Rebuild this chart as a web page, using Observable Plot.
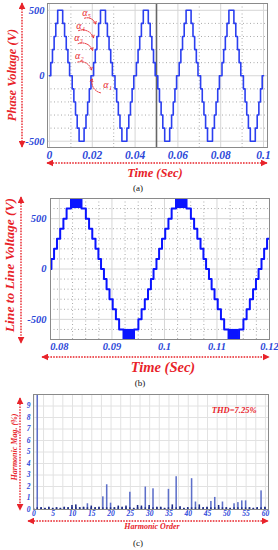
<!DOCTYPE html>
<html><head><meta charset="utf-8">
<script src="https://cdn.jsdelivr.net/npm/d3@7"></script>
<script src="https://cdn.jsdelivr.net/npm/@observablehq/plot@0.6"></script>
<style>
body{margin:0;background:#fff;}
#wrap{position:relative;width:278px;height:550px;overflow:hidden;font-family:"Liberation Serif","Times New Roman",serif;background:#fff;}
.p{position:absolute;left:0;}
.lbl{position:absolute;color:#e8232a;font-weight:bold;font-style:italic;white-space:nowrap;transform:translate(-50%,-50%);line-height:1;}
.rot{transform:translate(-50%,-50%) rotate(-90deg);}
.cap{position:absolute;color:#111;font-size:9px;white-space:nowrap;transform:translate(-50%,-50%);line-height:1;}
#ov{position:absolute;left:0;top:0;pointer-events:none;}
</style></head><body><div id="wrap"></div>
<script>
// ---------- data ----------
const period = 0.02;                       // fundamental period (s)
// (a) phase voltage
const phaseTimeTicks = [0, 0.02, 0.04, 0.06, 0.08, 0.1];
const phaseVoltTicks = [-500, 0, 500];
const phaseSwitchAnglesDeg = [11, 25, 39, 53, 69];   // alpha1..alpha5
const phaseStepV = 100;
const phaseStart = 0;                      // rising zero crossing
const phaseHalfCycles = 10;
const phaseMinorT = [0.01, 0.03, 0.05, 0.07, 0.09];
const phaseMinorV = [-400, -300, -200, -100, 100, 200, 300, 400];
const phaseCursor = [0.05];
const alphaNames = ["α₁", "α₂", "α₃", "α₄", "α₅"];
const alphaLabelT = [0.0272, 0.0139, 0.0136, 0.0145, 0.0173];
const alphaLabelV = [-70, 150, 290, 385, 482];
const alphaArrowT1 = [0.0238, 0.0132, 0.0134, 0.0136, 0.0164];
const alphaArrowV1 = [-130, 105, 245, 345, 440];
const alphaArrowT2 = [0.0199, 0.0196, 0.0201, 0.0206, 0.0215];
const alphaArrowV2 = [-25, 45, 195, 290, 395];
// (b) line-to-line voltage
const lineTimeTicks = [0.08, 0.09, 0.1, 0.11, 0.12];
const lineVoltTicks = [-500, 0, 500];
const lineSwitchAnglesDeg = [5, 14, 24, 35, 46, 57, 72];  // last = PWM block start
const lineStepV = 100;
const lineStart = 0.0582;                  // rising zero crossing
const lineHalfCycles = 7;
const lineBlockLow = 600, lineBlockHigh = 700;
const lineMinorT = [0.0825, 0.085, 0.0875, 0.0925, 0.095, 0.0975, 0.1025, 0.105, 0.1075, 0.1125, 0.115, 0.1175];
const lineMinorV = [-600, -400, -300, -200, -100, 100, 200, 300, 400, 600];
// (c) harmonic spectrum (% of fundamental), index = harmonic order 0..60
const harmonicMag = [
  0.1, 100, 0.15, 0.1, 0.2, 0.1, 0.15, 0.1, 0.2, 0.15,
  0.35, 0.4, 0.15, 0.2, 0.5, 0.3, 0.15, 0.2, 1.1, 2.15,
  0.55, 0.15, 0.3, 0.2, 0.3, 1.5, 0.1, 0.35, 0.3, 1.95,
  0.35, 1.8, 0.2, 0.2, 0.1, 1.75, 0.4, 2.85, 0.25, 0.1,
  0.15, 2.68, 0.65, 0.4, 0.15, 0.2, 0.7, 1.05, 0.35, 0.65,
  0.15, 0.1, 0.5, 0.6, 0.75, 0.75, 0.15, 0.1, 0.15, 1.62,
  0.2
];
const harmTicksX = [0, 5, 10, 15, 20, 25, 30, 35, 40, 45, 50, 55, 60];
const harmTicksY = [0, 1, 2, 3, 4, 5, 6, 7, 8, 9];
const thdText = ["THD=7.25%"];

// ---------- helpers ----------
const RED = "#e8232a", BLUE_T = "#2c47d8";
function staircase(t0, nHalf, angles, step) {
  const pts = [];
  const n = angles.length;
  for (let k = 0; k < nHalf; k++) {
    const T = t0 + k * period / 2, s = k % 2 ? -1 : 1;
    pts.push({t: T, v: 0});
    angles.forEach((a, i) => pts.push({t: T + a / 360 * period, v: s * (i + 1) * step}));
    for (let i = n - 1; i >= 0; i--) pts.push({t: T + (180 - angles[i]) / 360 * period, v: s * i * step});
  }
  pts.push({t: t0 + nHalf * period / 2, v: 0});
  return pts;
}
const fmtT = d => String(+d.toFixed(3));
const fmtV = d => String(d);
const axStyle = {fill: BLUE_T, fontWeight: "bold", fontStyle: "italic", fontFamily: "Liberation Serif"};
const svgStyle = {background: "transparent", overflow: "visible", fontFamily: "Liberation Serif"};

const phasePts = staircase(phaseStart, phaseHalfCycles, phaseSwitchAnglesDeg, phaseStepV);
const linePts = staircase(lineStart, lineHalfCycles, lineSwitchAnglesDeg, lineStepV);
const lastA = lineSwitchAnglesDeg[lineSwitchAnglesDeg.length - 1];
const lineBlocks = d3.range(lineHalfCycles).map(k => {
  const T = lineStart + k * period / 2, s = k % 2 ? -1 : 1;
  return {t1: T + lastA / 360 * period, t2: T + (180 - lastA) / 360 * period,
          v1: s * lineBlockLow, v2: s * lineBlockHigh};
});
const alphaLbl = alphaNames.map((n, i) => ({n, t: alphaLabelT[i], v: alphaLabelV[i]}));
const alphaArr = alphaNames.map((n, i) => ({t1: alphaArrowT1[i], v1: alphaArrowV1[i], t2: alphaArrowT2[i], v2: alphaArrowV2[i]}));
const harm = harmonicMag.map((v, h) => ({h, v}));

const wrap = document.getElementById("wrap");
function place(svg, top) { svg.classList.add("p"); svg.style.top = top + "px"; wrap.appendChild(svg); }

// ---------- (a) ----------
const A = Plot.plot({
  width: 278, height: 162, marginLeft: 47, marginRight: 11, marginTop: 3, marginBottom: 15,
  style: svgStyle,
  x: {domain: [-0.00093, 0.10187]},
  y: {domain: [-548, 552]},
  marks: [
    Plot.gridX(phaseMinorT, {stroke: "#aaa", strokeOpacity: 1, strokeDasharray: "1,2.5"}),
    Plot.gridY(phaseMinorV, {stroke: "#aaa", strokeOpacity: 1, strokeDasharray: "1,2.5"}),
    Plot.gridX(phaseTimeTicks, {stroke: "#d6d6d6", strokeOpacity: 1}),
    Plot.gridY(phaseVoltTicks, {stroke: "#d6d6d6", strokeOpacity: 1}),
    Plot.ruleX(phaseCursor, {stroke: "#666", strokeWidth: 1.6}),
    Plot.line(phasePts, {x: "t", y: "v", curve: "step-after", stroke: "#2b3ff0", strokeWidth: 1.6}),
    Plot.arrow(alphaArr, {x1: "t1", y1: "v1", x2: "t2", y2: "v2", bend: 45, stroke: RED, strokeWidth: 1, strokeDasharray: "1.2,1.2", headLength: 4}),
    Plot.text(alphaLbl, {x: "t", y: "v", text: "n", fill: RED, fontSize: 10, fontStyle: "italic", fontFamily: "Liberation Serif"}),
    Plot.frame({stroke: "#8a8a8a"}),
    Plot.axisX(phaseTimeTicks, {tickSize: 0, tickPadding: 3, fontSize: 11.5, tickFormat: fmtT, label: null, ...axStyle}),
    Plot.axisY(phaseVoltTicks, {tickSize: 0, tickPadding: 3, fontSize: 10.5, tickFormat: fmtV, label: null, ...axStyle})
  ]
});
place(A, 0);

// ---------- (b) ----------
const B = Plot.plot({
  width: 278, height: 159, marginLeft: 50, marginRight: 9, marginTop: 4, marginBottom: 14,
  style: svgStyle,
  x: {domain: [0.0783, 0.12]},
  y: {domain: [-700, 700]},
  marks: [
    Plot.gridX(lineMinorT, {stroke: "#aaa", strokeOpacity: 1, strokeDasharray: "1,2.5"}),
    Plot.gridY(lineMinorV, {stroke: "#aaa", strokeOpacity: 1, strokeDasharray: "1,2.5"}),
    Plot.gridX(lineTimeTicks, {stroke: "#d6d6d6", strokeOpacity: 1}),
    Plot.gridY(lineVoltTicks, {stroke: "#d6d6d6", strokeOpacity: 1}),
    Plot.rect(lineBlocks, {x1: "t1", x2: "t2", y1: "v1", y2: "v2", fill: "#0a14ff", clip: true}),
    Plot.line(linePts, {x: "t", y: "v", curve: "step-after", stroke: "#0a14ff", strokeWidth: 2, clip: true}),
    Plot.frame({stroke: "#8a8a8a"}),
    Plot.axisX(lineTimeTicks, {tickSize: 0, tickPadding: 3, fontSize: 10.5, tickFormat: fmtT, label: null, ...axStyle}),
    Plot.axisY(lineVoltTicks, {tickSize: 0, tickPadding: 4, fontSize: 10.5, tickFormat: fmtV, label: null, ...axStyle})
  ]
});
place(B, 194);

// ---------- (c) ----------
const C = Plot.plot({
  width: 278, height: 127, marginLeft: 33, marginRight: 10, marginTop: 4, marginBottom: 8,
  style: svgStyle,
  x: {domain: [-0.1, 60.8]},
  y: {domain: [0, 10]},
  marks: [
    Plot.gridX(d3.range(0, 61, 2.5), {stroke: "#e2e2e2", strokeOpacity: 1}),
    Plot.gridY(harmTicksY, {stroke: "#e2e2e2", strokeOpacity: 1}),
    Plot.rectY(harm, {x1: d => d.h - 0.2, x2: d => d.h + 0.2, y: "v", fill: d => d.v > 0.45 ? "#5d6fc9" : "#1c2b86", clip: true}),
    Plot.rectY(harm, {x1: d => d.h - 0.2, x2: d => d.h + 0.2, y: d => Math.min(d.v, 0.15), fill: "#1c2b86", clip: true}),
    Plot.text(thdText, {frameAnchor: "top-right", dx: -12, dy: 12, fill: RED, fontSize: 8.5, fontWeight: "bold", fontStyle: "italic", fontFamily: "Liberation Serif"}),
    Plot.frame({stroke: "#8a8a8a"}),
    Plot.axisX(harmTicksX, {tickSize: 0, tickPadding: 1, fontSize: 7.5, label: null, ...axStyle}),
    Plot.axisY(harmTicksY, {tickSize: 0, tickPadding: 3, fontSize: 7.5, label: null, ...axStyle})
  ]
});
place(C, 390);

// ---------- labels, captions, dotted axis arrows ----------
function label(text, cx, cy, size, rot, cls) {
  const d = document.createElement("div");
  d.className = (cls || "lbl") + (rot ? " rot" : "");
  d.textContent = text;
  d.style.left = cx + "px"; d.style.top = cy + "px"; d.style.fontSize = size + "px";
  wrap.appendChild(d);
}
label("Phase Voltage (V)", 12, 75, 12.5, true);
label("Time (Sec)", 155, 172.5, 12.5, false);
label("(a)", 138, 188, 9, false, "cap");
label("Line to Line Voltage (V)", 10, 265, 13.5, true);
label("Time (Sec)", 163, 367, 14.5, false);
label("(b)", 140, 383, 9, false, "cap");
label("Harmonic Mag. (%)", 15, 447, 8, true);
label("Harmonic Order", 152, 527, 8, false);
label("(c)", 138, 543, 9, false, "cap");

const NS = "http://www.w3.org/2000/svg";
const ov = document.createElementNS(NS, "svg");
ov.setAttribute("id", "ov"); ov.setAttribute("width", 278); ov.setAttribute("height", 550);
ov.innerHTML = `<defs><marker id="ah" viewBox="0 0 10 10" refX="9" refY="5" markerWidth="5" markerHeight="5" orient="auto-start-reverse"><path d="M0,0L10,5L0,10z" fill="${RED}"/></marker></defs>`;
function dline(x1, y1, x2, y2) {
  const l = document.createElementNS(NS, "line");
  l.setAttribute("x1", x1); l.setAttribute("y1", y1); l.setAttribute("x2", x2); l.setAttribute("y2", y2);
  l.setAttribute("stroke", RED); l.setAttribute("stroke-width", 1.4); l.setAttribute("stroke-dasharray", "1.6,1.2");
  l.setAttribute("marker-start", "url(#ah)"); l.setAttribute("marker-end", "url(#ah)");
  ov.appendChild(l);
}
dline(22, 3, 22, 147);
dline(47, 163, 267, 163);
dline(21, 197, 21, 343);
dline(42, 357, 269, 357);
dline(20, 398, 20, 510);
dline(28, 521, 268, 521);
wrap.appendChild(ov);
</script></body></html>
